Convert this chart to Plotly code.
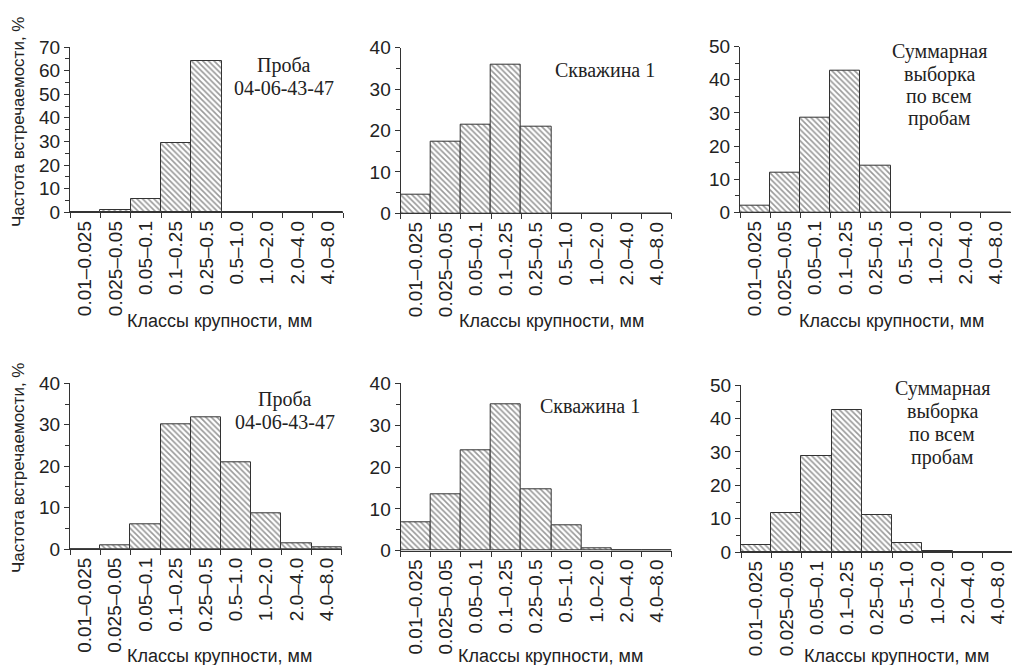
import plotly.graph_objects as go

categories = ["0.01–0.025", "0.025–0.05", "0.05–0.1", "0.1–0.25", "0.25–0.5",
              "0.5–1.0", "1.0–2.0", "2.0–4.0", "4.0–8.0"]

top_sample = [0, 0.8, 5.6, 29.2, 64.0, 0, 0, 0, 0]
top_well = [4.6, 17.4, 21.5, 35.8, 20.8, 0, 0, 0, 0]
top_total = [2.0, 12.1, 28.6, 42.7, 14.1, 0, 0, 0, 0]
bot_sample = [0, 0.9, 5.9, 30.0, 31.9, 21.0, 8.6, 1.3, 0.4]
bot_well = [6.8, 13.4, 24.1, 35.1, 14.7, 6.1, 0.5, 0, 0]
bot_total = [2.2, 11.7, 28.7, 42.5, 11.1, 2.7, 0.5, 0, 0]

y_max = [70, 40, 50, 40, 40, 50]

y_title = "Частота встречаемости, %"
x_title = "Классы крупности, мм"
label_sample = ["Проба", "04-06-43-47"]
label_well = ["Скважина 1"]
label_total = ["Суммарная", "выборка", "по всем", "пробам"]

W, H = 1020, 665
OFF = 8  # page body margin offset


def px(x):
    return (x - OFF) / W


def py(y):
    return 1 - (y - OFF) / H


# panel pixel boxes (in screenshot pixels): x0, x1, y_bottom, y_top
boxes = [
    (70, 343, 212.3, 47.0),
    (400.7, 671.7, 213.3, 47.7),
    (740, 1011, 212.3, 46.7),
    (70, 341.7, 549.0, 383.3),
    (400.7, 671.7, 550.7, 383.3),
    (741, 1013, 552.3, 385.0),
]
series = [top_sample, top_well, top_total, bot_sample, bot_well, bot_total]

AX = "#333333"
TXT = "#222222"
SANS = "Liberation Sans, Arial, sans-serif"
SERIF = "Liberation Serif, Times New Roman, serif"

fig = go.Figure()
layout = dict(width=W, height=H, margin=dict(l=0, r=0, t=0, b=0, autoexpand=False),
              paper_bgcolor="white", plot_bgcolor="white",
              showlegend=False, bargap=0)

for i, (vals, box, ym) in enumerate(zip(series, boxes, y_max)):
    n = "" if i == 0 else str(i + 1)
    fig.add_trace(go.Bar(
        x=categories, y=vals, xaxis="x" + n, yaxis="y" + n,
        marker=dict(color="white",
                    line=dict(color="#333333", width=1),
                    pattern=dict(shape="\\", fgcolor="#333333", bgcolor="white",
                                 size=4, solidity=0.4)),
        hoverinfo="x+y",
    ))
    x0, x1, yb, yt = box
    layout["xaxis" + n] = dict(
        domain=[px(x0), px(x1)], anchor="y" + n, type="category",
        categoryorder="array", categoryarray=categories,
        range=[-0.5, len(categories) - 0.5], automargin=False,
        showline=True, linecolor=AX, linewidth=1.3,
        ticks="outside", tickson="boundaries", ticklen=5, tickwidth=1.2, tickcolor=AX,
        tickangle=-90, tickfont=dict(family=SANS, size=19, color=TXT),
        showgrid=False, zeroline=False, fixedrange=True,
    )
    layout["yaxis" + n] = dict(
        domain=[py(yb), py(yt)], anchor="x" + n, automargin=False,
        range=[0, ym], tickmode="linear", tick0=0, dtick=10,
        showline=True, linecolor=AX, linewidth=1.3,
        ticks="outside", ticklen=5, tickwidth=1.2, tickcolor=AX,
        minor=dict(ticks="outside", dtick=5, tick0=0, ticklen=4, tickwidth=1.2, tickcolor=AX),
        tickfont=dict(family=SANS, size=19, color=TXT),
        showgrid=False, zeroline=False, fixedrange=True,
    )

fig.update_layout(**layout)

ann = []
# y-axis titles
for yc in (122, 468):
    ann.append(dict(x=px(18), y=py(yc), xref="paper", yref="paper",
                    text=y_title, textangle=-90, showarrow=False,
                    font=dict(family=SANS, size=17, color=TXT),
                    xanchor="center", yanchor="middle"))
# x-axis titles
for xc, yc in [(219, 321), (551, 321), (891, 321), (219, 656), (550, 656), (896, 656)]:
    ann.append(dict(x=px(xc), y=py(yc), xref="paper", yref="paper",
                    text=x_title, showarrow=False,
                    font=dict(family=SANS, size=18, color=TXT),
                    xanchor="center", yanchor="middle"))
# panel labels
placements = [
    (label_sample, 284, [65, 88]),
    (label_well, 605, [70]),
    (label_total, 939, [52, 74, 96, 118]),
    (label_sample, 285, [400, 422]),
    (label_well, 590, [406]),
    (label_total, 942, [388, 411, 434, 457]),
]
for lines, xc, ys in placements:
    for t, yc in zip(lines, ys):
        ann.append(dict(x=px(xc), y=py(yc), xref="paper", yref="paper",
                        text=t, showarrow=False,
                        font=dict(family=SERIF, size=20, color=TXT),
                        xanchor="center", yanchor="middle"))

fig.update_layout(annotations=ann)
fig.write_html("out.html")
